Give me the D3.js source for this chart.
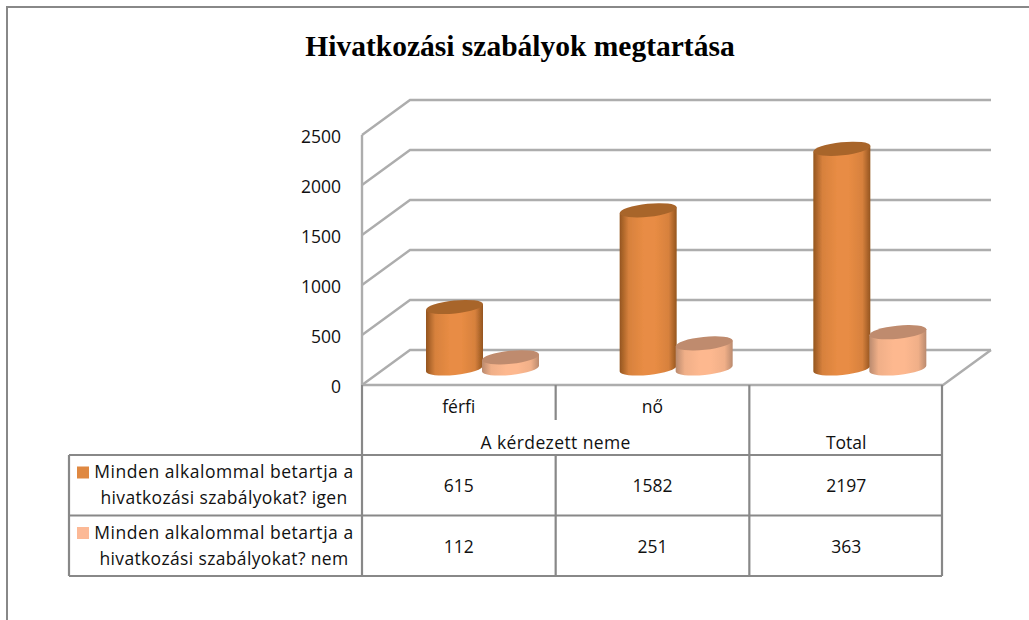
<!DOCTYPE html>
<html>
<head>
<meta charset="utf-8">
<script src="https://cdnjs.cloudflare.com/ajax/libs/d3/7.8.5/d3.min.js"></script>
<style>
  html, body { margin: 0; padding: 0; background: #fff; overflow: hidden; }
  text { font-family: "Open Sans", Lato, sans-serif; fill: #111; }
</style>
</head>
<body>
<div id="chart"></div>
<script>
// Chart values
const categories = ["férfi", "nő", "Total"];
const seriesNames = ["igen", "nem"];
const igenValues = [615, 1582, 2197];
const nemValues = [112, 251, 363];
const yTicks = [0, 500, 1000, 1500, 2000, 2500];
const legendLine1 = "Minden alkalommal betartja a";
const legendLines2 = ["hivatkozási szabályokat? igen", "hivatkozási szabályokat? nem"];
const titleText = "Hivatkozási szabályok megtartása";
const groupLabel = "A kérdezett neme";

const width = 1029, height = 620;
const depthX = 48, depthY = -35; // 3D offset of back wall
const lineColor = "#adadad", tableColor = "#888888";
const labelSize = "17.5px";

const svg = d3.select("#chart").append("svg")
    .attr("width", width).attr("height", height);

// Scales
const x0 = d3.scaleBand().domain(categories).range([362, 943]);
const x1 = d3.scaleBand().domain(seriesNames).range([64.5, 176.5]);
const y = d3.scaleLinear().domain([0, 2500]).range([385, 135]);
const rowY = d3.scaleBand().domain(seriesNames).range([455, 576]);

// Gradients for the cylinders
const defs = svg.append("defs");
function addGradient(id, edge, mid) {
    const g = defs.append("linearGradient").attr("id", id);
    g.append("stop").attr("offset", "0%").attr("stop-color", edge);
    g.append("stop").attr("offset", "16%").attr("stop-color", d3.interpolateRgb(edge, mid)(0.8));
    g.append("stop").attr("offset", "42%").attr("stop-color", mid);
    g.append("stop").attr("offset", "62%").attr("stop-color", mid);
    g.append("stop").attr("offset", "86%").attr("stop-color", d3.interpolateRgb(edge, mid)(0.8));
    g.append("stop").attr("offset", "100%").attr("stop-color", edge);
}
addGradient("grad-igen", "#94551f", "#e88c44");
addGradient("grad-nem", "#ba8a6e", "#fdb88f");
defs.append("filter").attr("id", "soft")
    .append("feGaussianBlur").attr("stdDeviation", 0.5);

// Outer frame, cut off at the right and bottom
svg.append("path")
    .attr("d", `M7,${height}V7H${width}`)
    .attr("fill", "none").attr("stroke", tableColor).attr("stroke-width", 2);

// Title
svg.append("text")
    .attr("x", 520).attr("y", 56)
    .attr("text-anchor", "middle")
    .style("font-family", "'Liberation Serif', serif")
    .style("font-weight", "bold").style("font-size", "29.5px")
    .style("fill", "#000")
    .text(titleText);

// Back wall gridlines plus the diagonals on the side wall
const walls = svg.append("g").attr("fill", "none")
    .attr("stroke", lineColor).attr("stroke-width", 2.4)
    .attr("filter", "url(#soft)");
walls.selectAll(".grid").data(yTicks).enter().append("path")
    .attr("class", "grid")
    .attr("d", d => `M${x0.range()[0]},${y(d)}l${depthX},${depthY}H${x0.range()[1] + depthX}`);
walls.append("path") // left wall edge
    .attr("d", `M${x0.range()[0]},${y(2500)}V${y(0)}`);
walls.append("path") // floor front and right edge
    .attr("d", `M${x0.range()[0]},${y(0)}H${x0.range()[1]}l${depthX},${depthY}`);

// Y axis
const yAxis = svg.append("g")
    .attr("transform", "translate(347,2)")
    .call(d3.axisLeft(y).tickValues(yTicks).tickSize(0).tickPadding(6).tickFormat(d3.format("d")));
yAxis.select(".domain").remove();
yAxis.selectAll("text").style("font-size", labelSize).style("font-family", "'Open Sans', sans-serif").style("fill", "#111");

// Cylinders
const bars = [];
categories.forEach((c, i) => {
    bars.push({ cat: c, s: "igen", value: igenValues[i] });
    bars.push({ cat: c, s: "nem", value: nemValues[i] });
});
const tilt = 6; // degrees, slope of the ellipses
const ry = 6.5;
const baseLift = 16.5; // cylinders stand inside the floor
const rx = x1.bandwidth() / 2 + 0.5;
const dy = rx * Math.tan(tilt * Math.PI / 180);
const rxTilted = rx / Math.cos(tilt * Math.PI / 180);
const topColor = { igen: "#a8652c", nem: "#bf8b6e" };

const cyl = svg.selectAll(".cyl").data(bars).enter().append("g")
    .attr("class", "cyl").attr("filter", "url(#soft)");
const cx = d => x0(d.cat) + x1(d.s) + x1.bandwidth() / 2;
const baseY = () => y(0) - baseLift;
const topY = d => y(d.value) - baseLift;

cyl.append("path")
    .attr("d", d => `M${cx(d) - rx},${topY(d) + dy}V${baseY() + dy}`
        + `A${rxTilted},${ry} ${-tilt} 0 0 ${cx(d) + rx},${baseY() - dy}`
        + `V${topY(d) - dy}Z`)
    .attr("fill", d => `url(#grad-${d.s})`);
cyl.append("ellipse")
    .attr("cx", cx).attr("cy", topY)
    .attr("rx", rxTilted).attr("ry", ry)
    .attr("transform", d => `rotate(${-tilt} ${cx(d)} ${topY(d)})`)
    .attr("fill", d => topColor[d.s]);

// Data table lines
const table = svg.append("g").attr("fill", "none")
    .attr("stroke", tableColor).attr("stroke-width", 2.2);
const xA = 69, xB = x0.range()[0], xE = x0.range()[1] - 1;
const rowTop = rowY.range()[0], rowBottom = rowY.range()[1];
const rowMid = rowY(seriesNames[1]);
table.append("path").attr("d", `M${xA},${rowTop}H${xE}M${xA},${rowMid}H${xE}M${xA},${rowBottom}H${xE}M${xA},${rowTop}V${rowBottom}`);
table.append("path").attr("d", `M${xB},${y(0)}V${rowBottom}`);
table.append("path").attr("d", `M${x0("nő")},${y(0)}V420M${x0("nő")},${rowTop}V${rowBottom}`);
table.append("path").attr("d", `M${x0("Total")},${y(0)}V${rowBottom}`);
table.append("path").attr("d", `M${xE},${y(0)}V${rowBottom}`);

// Table header labels
const cellCenter = c => x0(c) + x0.bandwidth() / 2;
const label = (x, yPos, t, spacing) => svg.append("text")
    .attr("x", x).attr("y", yPos)
    .attr("text-anchor", "middle")
    .style("font-size", labelSize)
    .style("letter-spacing", spacing || null)
    .text(t);

categories.slice(0, 2).forEach(c => label(cellCenter(c), 413, c));
label(x0("nő"), 449, groupLabel, "0.4px");
label(cellCenter("Total"), 449, "Total");

// Table values
[igenValues, nemValues].forEach((vals, r) => {
    vals.forEach((v, i) => {
        label(cellCenter(categories[i]), rowY(seriesNames[r]) + rowY.bandwidth() / 2 + 7, v);
    });
});

// Legend keys and labels in the table
const legendColor = { igen: "#df8841", nem: "#fcb996" };
seriesNames.forEach((s, i) => {
    const r = rowY(s);
    svg.append("rect")
        .attr("x", 77).attr("y", r + 11.5)
        .attr("width", 12).attr("height", 12)
        .attr("fill", legendColor[s]);
    label(224, r + 23, legendLine1, "0.55px");
    label(224, r + 49, legendLines2[i], "0.35px");
});
</script>
</body>
</html>
